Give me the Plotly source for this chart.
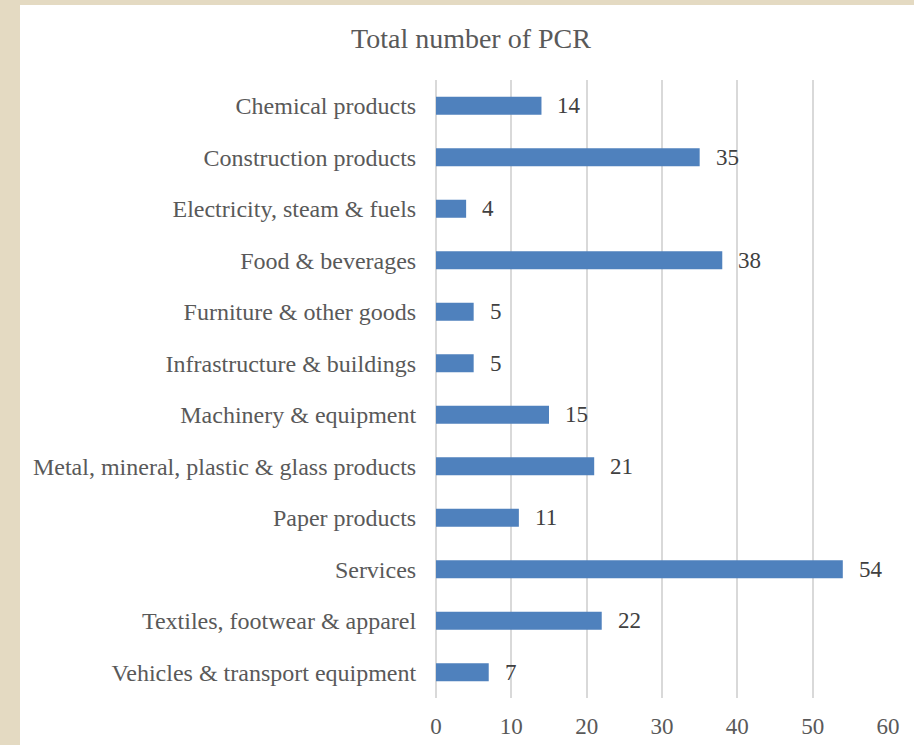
import plotly.graph_objects as go

categories = [
    "Chemical products",
    "Construction products",
    "Electricity, steam & fuels",
    "Food & beverages",
    "Furniture & other goods",
    "Infrastructure & buildings",
    "Machinery & equipment",
    "Metal, mineral, plastic & glass products",
    "Paper products",
    "Services",
    "Textiles, footwear & apparel",
    "Vehicles & transport equipment",
]
values = [14, 35, 4, 38, 5, 5, 15, 21, 11, 54, 22, 7]
x_ticks = [0, 10, 20, 30, 40, 50, 60]

W, H = 914, 745
L, R, T, B = 436, 26, 80, 47
pw = W - L - R
ph = H - T - B

FONT = "Liberation Serif, Times New Roman, serif"
GREY = "#595959"

fig = go.Figure()
fig.add_trace(go.Bar(
    y=categories, x=values, orientation="h",
    marker=dict(color="#4F81BD", line=dict(width=0)),
    hoverinfo="x+y",
))

annotations = []
for c, v in zip(categories, values):
    annotations.append(dict(
        x=v, y=c, xref="x", yref="y", text=str(v), showarrow=False,
        xanchor="left", yanchor="middle", xshift=14,
        font=dict(family=FONT, size=23, color="#404040"),
    ))

# white card over a beige background
shapes = [dict(
    type="rect", xref="paper", yref="paper", layer="below",
    x0=(20 - L) / pw, x1=(W + 5 - L) / pw,
    y0=-(B + 5) / ph, y1=(ph + T - 5) / ph,
    fillcolor="white", line=dict(width=0),
)]

fig.update_layout(
    width=W, height=H,
    margin=dict(l=L, r=R, t=T, b=B, pad=0, autoexpand=False),
    paper_bgcolor="#e4dac2",
    plot_bgcolor="rgba(0,0,0,0)",
    bargap=0.65,
    showlegend=False,
    title=dict(
        text="Total number of PCR", xref="container", yref="container",
        x=471 / W, y=1 - 38 / H, xanchor="center", yanchor="middle",
        font=dict(family=FONT, size=28, color=GREY),
    ),
    xaxis=dict(
        range=[0, 60], tickvals=x_ticks, showgrid=True,
        gridcolor="#d9d9d9", gridwidth=2,
        zeroline=True, zerolinecolor="#d9d9d9", zerolinewidth=2,
        showline=False, ticks="outside", ticklen=7,
        tickcolor="rgba(0,0,0,0)", automargin=False,
        tickfont=dict(family=FONT, size=23, color=GREY),
        fixedrange=True,
    ),
    yaxis=dict(
        autorange="reversed", showgrid=False, zeroline=False,
        showline=False, ticks="outside", ticklen=14,
        tickcolor="rgba(0,0,0,0)", automargin=False,
        tickfont=dict(family=FONT, size=24, color=GREY),
        fixedrange=True,
    ),
    annotations=annotations,
    shapes=shapes,
    font=dict(family=FONT, color=GREY),
)

fig.write_html(
    "out.html",
    config={"displayModeBar": False},
    post_script="document.body.style.margin='0';document.body.style.overflow='hidden';",
)
